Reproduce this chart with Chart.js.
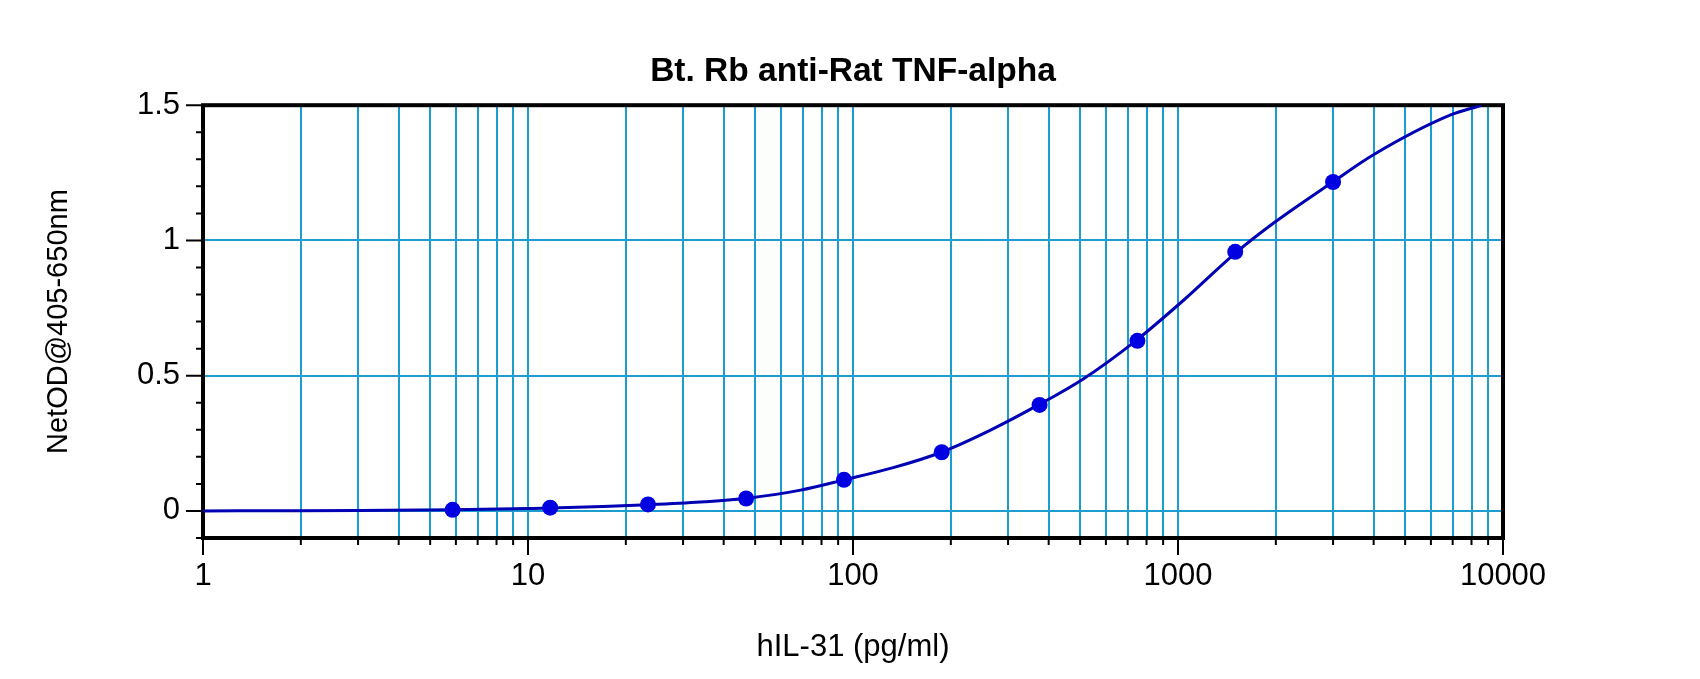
<!DOCTYPE html>
<html lang="en">
<head>
    <meta charset="UTF-8">
    <title>Bt. Rb anti-Rat TNF-alpha</title>
    <style>
        body { margin: 0; background: #fff; }
        #curveChart { display: block; }
    </style>
</head>
<body>
    <canvas id="curveChart" width="1700" height="679"></canvas>
    <script src="https://cdn.jsdelivr.net/npm/chart.js"></script>
    <script>
// standards (pg/ml) and measured OD
const stdConc = [5.86, 11.7, 23.4, 46.9, 93.8, 187.5, 375, 750, 1500, 3000];
const stdOD = [0.004, 0.012, 0.024, 0.046, 0.115, 0.217, 0.392, 0.629, 0.958, 1.216];

// fitted curve
const curveConc = [1, 2, 3, 5.86, 10, 17, 23.4, 35, 48, 69, 94, 133, 187, 264, 372, 511, 741, 1038, 1508, 1988, 2993, 3972, 6870, 8610];
const curveOD = [0, 0.001, 0.002, 0.004, 0.009, 0.016, 0.023, 0.034, 0.048, 0.077, 0.115, 0.160, 0.217, 0.298, 0.392, 0.488, 0.629, 0.778, 0.955, 1.068, 1.216, 1.315, 1.463, 1.5];

const xTicks = [1, 2, 3, 4, 5, 6, 7, 8, 9,
    10, 20, 30, 40, 50, 60, 70, 80, 90,
    100, 200, 300, 400, 500, 600, 700, 800, 900,
    1000, 2000, 3000, 4000, 5000, 6000, 7000, 8000, 9000, 10000];
const xLabels = [1, 10, 100, 1000, 10000];
const yTicks = [-0.1, 0, 0.1, 0.2, 0.3, 0.4, 0.5, 0.6, 0.7, 0.8, 0.9, 1, 1.1, 1.2, 1.3, 1.4, 1.5];
const yLabels = [0, 0.5, 1, 1.5];

const gridBlue = '#1c9dd0';
const fontFamily = '"Liberation Sans", Arial, sans-serif';

const isLabel = (list, v) => list.some(l => Math.abs(l - v) < 1e-9);

// black frame plus long/short tick marks outside the plot
const frameTicks = {
    id: 'frameTicks',
    beforeDatasetsDraw(chart) {
        const { ctx, chartArea: a, scales: { x, y } } = chart;
        ctx.save();
        ctx.strokeStyle = '#000';
        ctx.lineWidth = 2;
        ctx.beginPath();
        x.ticks.forEach(t => {
            const px = x.getPixelForValue(t.value);
            const len = isLabel(xLabels, t.value) ? 17 : 7;
            ctx.moveTo(px, a.bottom);
            ctx.lineTo(px, a.bottom + len);
        });
        y.ticks.forEach(t => {
            const py = y.getPixelForValue(t.value);
            const len = isLabel(yLabels, t.value) ? 17 : 7;
            ctx.moveTo(a.left - len, py);
            ctx.lineTo(a.left, py);
        });
        ctx.stroke();
        ctx.lineWidth = 4;
        ctx.strokeRect(a.left, a.top, a.right - a.left, a.bottom - a.top);
        ctx.restore();
    }
};

const ctx = document.getElementById('curveChart').getContext('2d');
const curveChart = new Chart(ctx, {
    type: 'scatter',
    data: {
        datasets: [
            {
                label: 'Fit',
                data: curveConc.map((c, i) => ({ x: c, y: curveOD[i] })),
                showLine: true,
                borderColor: '#0000b4',
                borderWidth: 3,
                pointRadius: 0,
                cubicInterpolationMode: 'monotone',
                order: 2
            },
            {
                label: 'Standards',
                data: stdConc.map((c, i) => ({ x: c, y: stdOD[i] })),
                showLine: false,
                backgroundColor: '#0000e0',
                borderWidth: 0,
                pointRadius: 8,
                order: 1
            }
        ]
    },
    options: {
        responsive: false,
        animation: false,
        devicePixelRatio: 1,
        layout: { padding: { left: 0, right: 197, top: 0, bottom: 0 } },
        plugins: {
            legend: { display: false },
            tooltip: { enabled: false },
            title: {
                display: true,
                fullSize: false,
                text: 'Bt. Rb anti-Rat TNF-alpha',
                color: '#000',
                font: { family: fontFamily, size: 33.5, weight: 'bold', lineHeight: 1.2 },
                padding: { top: 52, bottom: 13 }
            }
        },
        scales: {
            x: {
                type: 'logarithmic',
                min: 1,
                max: 10000,
                afterBuildTicks: s => { s.ticks = xTicks.map(v => ({ value: v })); },
                afterFit: s => { s.height = 141; },
                border: { display: false },
                grid: { color: gridBlue, lineWidth: 2, drawTicks: false },
                ticks: {
                    autoSkip: false,
                    maxRotation: 0,
                    padding: 20,
                    color: '#000',
                    font: { family: fontFamily, size: 31 },
                    callback: v => isLabel(xLabels, v) ? String(v) : ''
                },
                title: {
                    display: true,
                    text: 'hIL-31 (pg/ml)',
                    color: '#000',
                    font: { family: fontFamily, size: 31 },
                    padding: { top: 0, bottom: 13 }
                }
            },
            y: {
                min: -0.1,
                max: 1.5,
                afterBuildTicks: s => { s.ticks = yTicks.map(v => ({ value: v })); },
                afterFit: s => { s.width = 203; },
                border: { display: false },
                grid: {
                    color: c => (c.tick && isLabel([0, 0.5, 1], c.tick.value)) ? gridBlue : 'rgba(0,0,0,0)',
                    lineWidth: 2,
                    drawTicks: false
                },
                ticks: {
                    autoSkip: false,
                    padding: 23,
                    color: '#000',
                    font: { family: fontFamily, size: 31 },
                    callback: v => isLabel(yLabels, v) ? String(Math.round(v * 10) / 10) : ''
                },
                title: {
                    display: true,
                    text: 'NetOD@405-650nm',
                    color: '#000',
                    font: { family: fontFamily, size: 29 },
                    padding: { top: 42, bottom: 0 }
                }
            }
        }
    },
    plugins: [frameTicks]
});
    </script>
</body>
</html>
